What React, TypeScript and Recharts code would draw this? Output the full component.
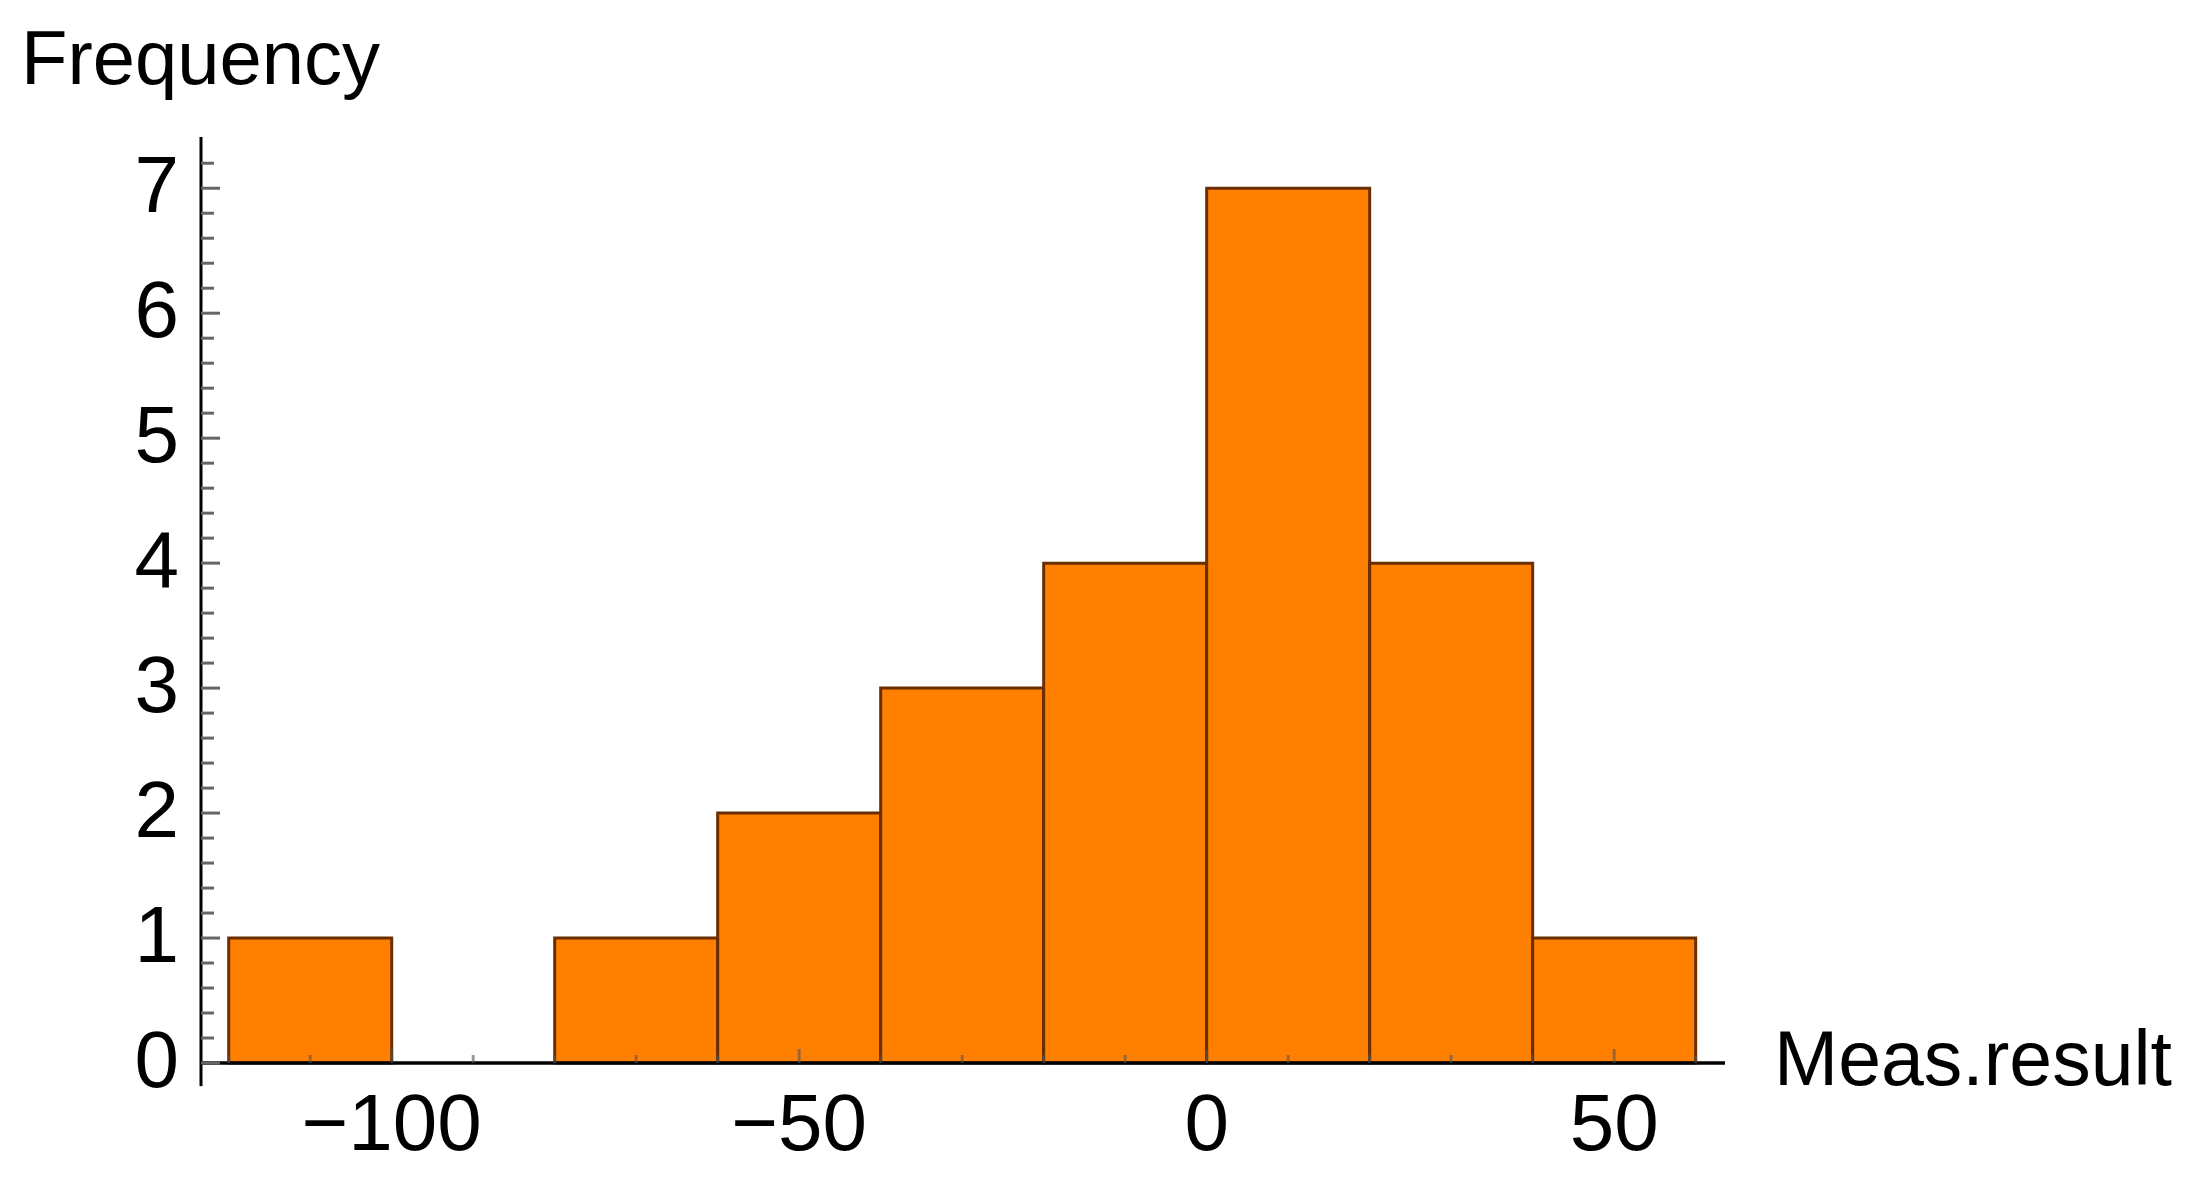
import { ComposedChart, Bar, XAxis, YAxis, ReferenceLine } from 'recharts'

// histogram bins: centre of each 20-wide bin and its count
const binMids = [-110, -90, -70, -50, -30, -10, 10, 30, 50]
const binCounts = [1, 0, 1, 2, 3, 4, 7, 4, 1]

// axis ticks
const xTicks = [-120, -110, -100, -90, -80, -70, -60, -50, -40, -30, -20, -10, 0, 10, 20, 30, 40, 50, 60]
const xLabelTicks = [-100, -50, 0, 50]
const yLabelTicks = [0, 1, 2, 3, 4, 5, 6, 7]
const yMinorStep = 0.2
const yMinorMax = 7.2

const xDomain: [number, number] = [-123.4, 63.6]
const yDomain: [number, number] = [0, 7.41]

const FONT = '"Liberation Sans", Arial, sans-serif'
const X_TICK_MARGIN = 30
const Y_TICK_MARGIN = 22

const data = binMids.map((mid, i) => ({ mid, count: binCounts[i] }))
const yTicks = Array.from({ length: Math.round(yMinorMax / yMinorStep) + 1 }, (_, i) =>
  Number((i * yMinorStep).toFixed(1))
)

const fmt = (v: number) => (v < 0 ? `\u2212${Math.abs(v)}` : String(v))

function XTick(props: any) {
  const { x, y, payload } = props
  const v = payload.value
  const axisY = y - X_TICK_MARGIN
  const major = xLabelTicks.includes(v)
  return (
    <g>
      <line x1={x} x2={x} y1={axisY} y2={axisY - (major ? 14 : 8)} stroke="#555" strokeOpacity={0.6} strokeWidth={3} />
      {major && (
        <text x={x} y={y} dy="0.71em" textAnchor="middle" fontFamily={FONT} fontSize={80} fill="#000">
          {fmt(v)}
        </text>
      )}
    </g>
  )
}

function YTick(props: any) {
  const { x, y, payload } = props
  const v = payload.value
  const axisX = x + Y_TICK_MARGIN
  const major = yLabelTicks.includes(v)
  return (
    <g>
      <line x1={axisX} x2={axisX + (major ? 19 : 13)} y1={y} y2={y} stroke="#666" strokeWidth={3} />
      {major && (
        <text x={x} y={y} dy="0.3em" textAnchor="end" fontFamily={FONT} fontSize={80} fill="#000">
          {v}
        </text>
      )}
    </g>
  )
}

export default function App() {
  return (
    <div style={{ position: 'absolute', left: 0, top: 0, width: 2199, height: 1186, background: '#fff' }}>
      <ComposedChart
        width={2199}
        height={1186}
        data={data}
        margin={{ top: 137, right: 474, left: 101, bottom: 63 }}
        barCategoryGap={0}
        barGap={0}
      >
        <Bar dataKey="count" fill="#FF8000" stroke="#6b2e00" strokeWidth={3} isAnimationActive={false} />
        <XAxis
          dataKey="mid"
          type="number"
          domain={xDomain}
          ticks={xTicks}
          interval={0}
          height={60}
          tickSize={0}
          tickMargin={X_TICK_MARGIN}
          tickLine={false}
          tick={<XTick />}
          axisLine={{ stroke: '#000', strokeWidth: 3.5 }}
        />
        <YAxis
          type="number"
          domain={yDomain}
          ticks={yTicks}
          interval={0}
          width={100}
          tickSize={0}
          tickMargin={Y_TICK_MARGIN}
          tickLine={false}
          tick={<YTick />}
          axisLine={{ stroke: '#000', strokeWidth: 3 }}
        />
        <ReferenceLine
          segment={[{ x: xDomain[0], y: 0 }, { x: xDomain[0], y: -0.185 }]}
          stroke="#000"
          strokeWidth={3}
          ifOverflow="visible"
        />
      </ComposedChart>
      <div style={{ position: 'absolute', left: 21, top: 20, fontFamily: FONT, fontSize: 76, lineHeight: 1, color: '#000' }}>
        Frequency
      </div>
      <div style={{ position: 'absolute', left: 1774, top: 1020, fontFamily: FONT, fontSize: 77, lineHeight: 1, color: '#000' }}>
        Meas.result
      </div>
    </div>
  )
}
